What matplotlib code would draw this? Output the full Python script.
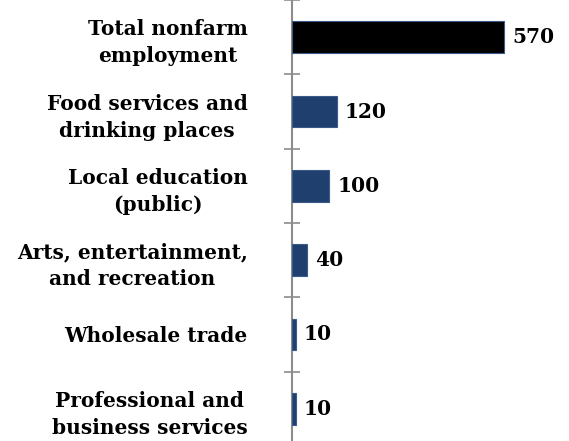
import matplotlib
matplotlib.use("Agg")
import matplotlib.pyplot as plt
import numpy as np

# Data (top to bottom)
categories = [
    "Total nonfarm\nemployment",
    "Food services and\ndrinking places",
    "Local education\n(public)",
    "Arts, entertainment,\nand recreation",
    "Wholesale trade",
    "Professional and\nbusiness services",
]
values = [570, 120, 100, 40, 10, 10]
value_labels = ["570", "120", "100", "40", "10", "10"]
bar_colors = ["#000000", "#1f3f6f", "#1f3f6f", "#1f3f6f", "#1f3f6f", "#1f3f6f"]

W, H = 569, 441
fig = plt.figure(figsize=(W / 100, H / 100), dpi=100)
# axes spans y = 0 .. 446 px (slightly below image bottom), x = 292 .. 552 px
ax = fig.add_axes([292 / W, (H - 446) / H, 260 / W, 446 / H])

n = len(categories)
pos = np.arange(n)
ax.barh(pos, values, height=0.43, color=bar_colors,
        edgecolor="#3a5a8a", linewidth=0.8, zorder=3)
ax.set_ylim(n - 0.5, -0.5)
ax.set_xlim(0, 700)

font = dict(family="DejaVu Serif", weight="bold")
for p, v, lab in zip(pos, values, value_labels):
    ax.annotate(lab, (v, p), xytext=(6, 0), textcoords="offset points",
                va="center", ha="left", fontsize=14.5, **font)

# spines / ticks
for s in ["top", "right", "bottom"]:
    ax.spines[s].set_visible(False)
ax.spines["left"].set_color("#8c8c8c")
ax.spines["left"].set_linewidth(1.5)
ax.set_xticks([])

# boundaries as major ticks, labels on minor ticks at centres
ax.set_yticks(np.arange(-0.5, n + 0.5, 1.0))
ax.set_yticklabels([])
ax.tick_params(axis="y", which="major", direction="inout", length=11,
               width=1.2, color="#8c8c8c")
ax.set_yticks(pos, minor=True)
ax.set_yticklabels(categories, minor=True, fontsize=14.5,
                   multialignment="center", linespacing=1.45, **font)
ax.tick_params(axis="y", which="minor", length=0, pad=32)

fig.savefig("out.png", dpi=100)
